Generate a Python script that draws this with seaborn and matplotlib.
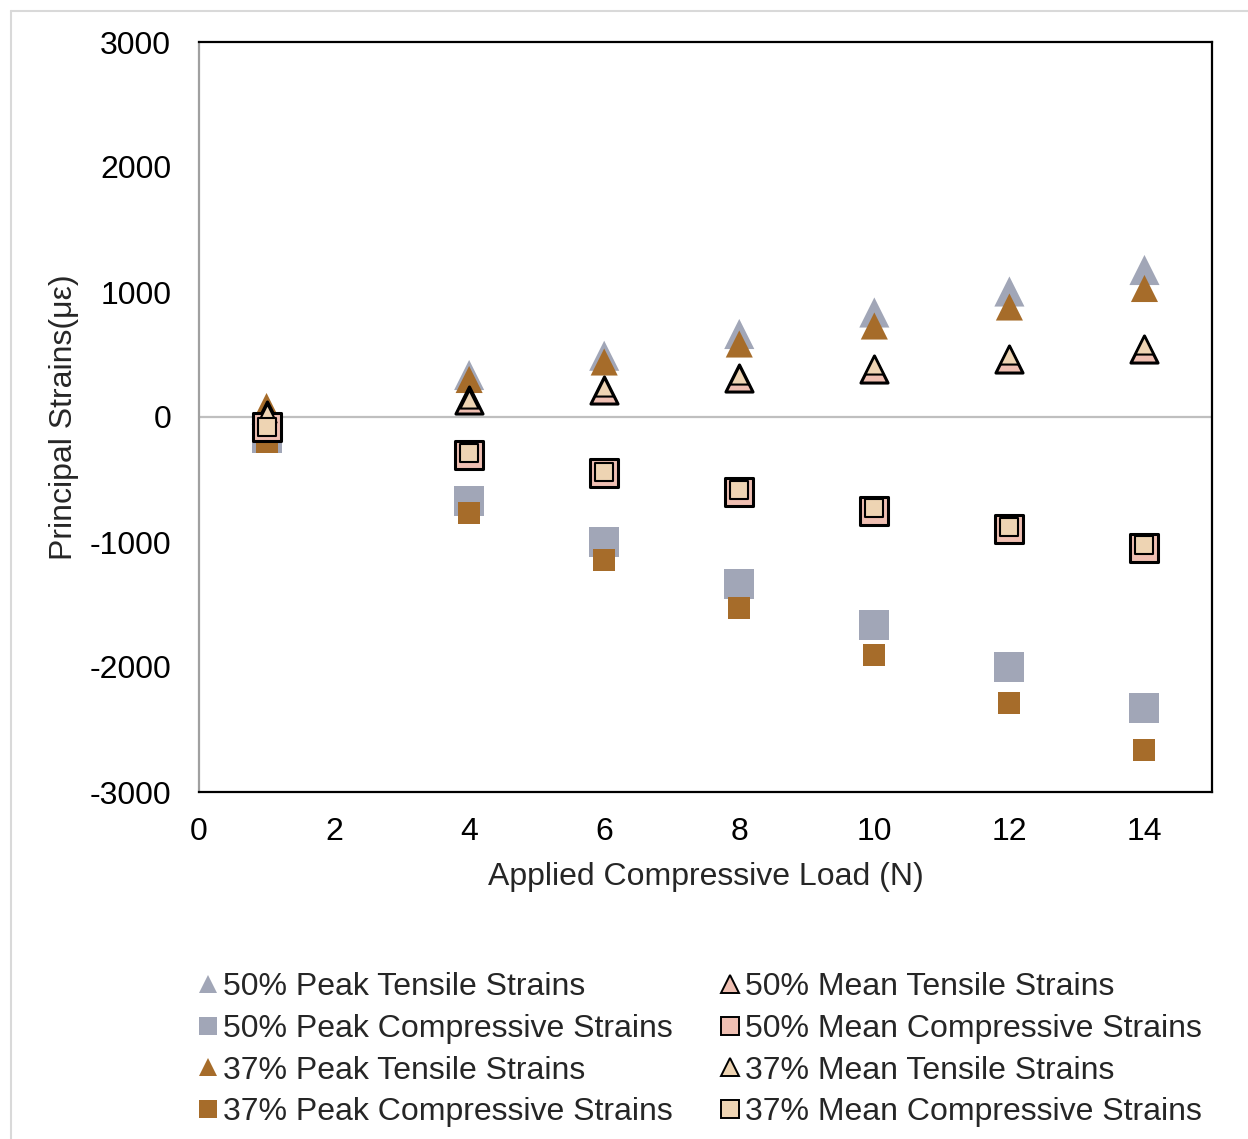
import matplotlib
matplotlib.use('Agg')
import matplotlib.pyplot as plt
import seaborn as sns
from matplotlib.lines import Line2D

# Dados
carga = [1, 4, 6, 8, 10, 12, 14]
pico_tracao_50 = [60, 336, 490, 664, 836, 1004, 1176]
pico_compressao_50 = [-168, -672, -1000, -1336, -1664, -2000, -2328]
pico_tracao_37 = [84, 300, 440, 584, 728, 880, 1028]
pico_compressao_37 = [-200, -768, -1144, -1528, -1904, -2288, -2664]
media_tracao_50 = [20, 136, 216, 312, 388, 468, 548]
media_compressao_50 = [-80, -304, -448, -596, -748, -896, -1044]
media_tracao_37 = [36, 148, 240, 336, 416, 496, 580]
media_compressao_37 = [-76, -288, -440, -584, -728, -880, -1024]

rotulos = ['50% Peak Tensile Strains', '50% Peak Compressive Strains',
           '37% Peak Tensile Strains', '37% Peak Compressive Strains',
           '50% Mean Tensile Strains', '50% Mean Compressive Strains',
           '37% Mean Tensile Strains', '37% Mean Compressive Strains']

cinza = '#A1A6B7'
marrom = '#A66C2A'
rosa = '#EFBFB2'
bege = '#EED4B3'

sns.set_style('white')
plt.rcParams['font.family'] = ['Liberation Sans', 'DejaVu Sans']
plt.rcParams['axes.unicode_minus'] = False

fonte = 23

fig = plt.figure(figsize=(12.48, 11.39), dpi=100)
ax = fig.add_axes([199 / 1248, 1 - 792 / 1139, 1013 / 1248, 750 / 1139])

# linha do zero
ax.axhline(0, color='#BFBFBF', linewidth=1.6, zorder=0)

series = [
    (pico_tracao_50, '^', 470, cinza, 'none', 0),
    (pico_compressao_50, 's', 467, cinza, 'none', 0),
    (pico_tracao_37, '^', 380, marrom, 'none', 0),
    (pico_compressao_37, 's', 251, marrom, 'none', 0),
    (media_tracao_50, '^', 380, rosa, 'black', 2.2),
    (media_compressao_50, 's', 406, rosa, 'black', 2.2),
    (media_tracao_37, '^', 170, bege, 'black', 1.5),
    (media_compressao_37, 's', 168, bege, 'black', 1.5),
]

for (valores, marcador, tam, cor, borda, lw), nome in zip(series, rotulos):
    sns.scatterplot(x=carga, y=valores, marker=marcador, s=tam, color=cor,
                    edgecolor=borda, linewidth=lw, ax=ax, legend=False, zorder=3)

ax.set_xlim(0, 15)
ax.set_ylim(-3000, 3000)
ax.set_xticks(range(0, 15, 2))
ax.set_yticks(range(-3000, 3001, 1000))
ax.tick_params(axis='both', length=0, labelsize=fonte, colors='black')
ax.tick_params(axis='y', pad=20)
ax.tick_params(axis='x', pad=18)

for lado in ['top', 'right', 'bottom']:
    ax.spines[lado].set_color('black')
    ax.spines[lado].set_linewidth(1.6)
ax.spines['left'].set_color('#A0A0A0')
ax.spines['left'].set_linewidth(1.6)

ax.set_xlabel('Applied Compressive Load (N)', fontsize=fonte)
ax.set_ylabel('Principal Strains(με)', fontsize=fonte)
ax.xaxis.set_label_coords(0.5, -0.094)
ax.yaxis.set_label_coords(-0.118, 0.5)

# legenda
alcas = []
for (valores, marcador, tam, cor, borda, lw), nome in zip(series, rotulos):
    alcas.append(Line2D([], [], linestyle='none', marker=marcador, markersize=13,
                        markerfacecolor=cor, markeredgecolor=borda if lw else cor,
                        markeredgewidth=1.4 if lw else 0, label=nome))

fig.legend(handles=alcas, loc='upper left', bbox_to_anchor=(199 / 1248, 1 - 972 / 1139),
           ncol=2, frameon=False, fontsize=fonte, borderpad=0, borderaxespad=0,
           handlelength=0.56, handletextpad=0.2, columnspacing=1.5, labelspacing=0.37)

# borda clara da area do grafico
fig.add_artist(Line2D([11 / 1248, 11 / 1248], [0, 1 - 11 / 1139], color='#D9D9D9', linewidth=1.5))
fig.add_artist(Line2D([11 / 1248, 1], [1 - 11 / 1139, 1 - 11 / 1139], color='#D9D9D9', linewidth=1.5))

plt.savefig('out.png', dpi=100)
